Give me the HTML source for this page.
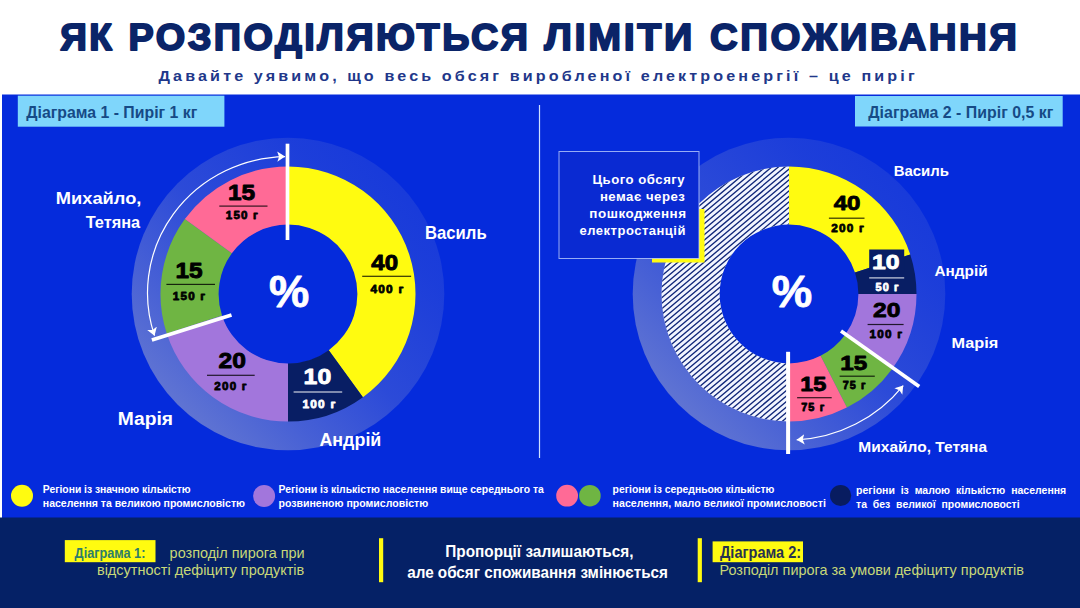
<!DOCTYPE html>
<html><head><meta charset="utf-8"><title>Ліміти споживання</title>
<style>
html,body{margin:0;padding:0;background:#fff;}
body{width:1080px;height:608px;overflow:hidden;font-family:"Liberation Sans",sans-serif;}
svg{display:block}
svg text{font-family:"Liberation Sans",sans-serif;}
</style></head><body>
<svg width="1080" height="608" viewBox="0 0 1080 608">
<defs>
<pattern id="hatch" width="4.4" height="4.4" patternUnits="userSpaceOnUse" patternTransform="rotate(-35)">
<rect width="4.4" height="4.4" fill="#f4f7ff"/>
<rect y="0" width="4.4" height="1.8" fill="#0a1c5e"/>
</pattern>
<linearGradient id="halo" x1="0" y1="1" x2="1" y2="0">
<stop offset="0.15" stop-color="#c8c8c8" stop-opacity="0.46"/>
<stop offset="0.3" stop-color="#c8c8c8" stop-opacity="0.34"/>
<stop offset="0.5" stop-color="#c8c8c8" stop-opacity="0.20"/>
<stop offset="0.75" stop-color="#c8c8c8" stop-opacity="0.12"/>
<stop offset="0.9" stop-color="#c8c8c8" stop-opacity="0.09"/>
</linearGradient>
<marker id="ah" viewBox="-8 -6 9 12" refX="0" refY="0" markerWidth="9" markerHeight="12" orient="auto-start-reverse" markerUnits="userSpaceOnUse">
<path d="M0,0 L-7.8,5.1 L-6,0 L-7.8,-5.1 Z" fill="#fff"/>
</marker>
</defs>
<rect width="1080" height="608" fill="#fff"/>
<rect x="2" y="94.5" width="1078" height="423.5" fill="#052bdc"/>
<rect x="0" y="517.5" width="1080" height="90.5" fill="#052166"/>

<text transform="translate(60.25,49.60) scale(0.9846,1)" font-size="37.6" font-weight="700" fill="#0a2468" letter-spacing="2.5" stroke="#0a2468" stroke-width="1.93" stroke-linejoin="round" xml:space="preserve">ЯК</text>
<text transform="translate(128.54,49.60) scale(1.0052,1)" font-size="37.6" font-weight="700" fill="#0a2468" letter-spacing="2.5" stroke="#0a2468" stroke-width="1.89" stroke-linejoin="round" xml:space="preserve">РОЗПОДІЛЯЮТЬСЯ</text>
<text transform="translate(544.25,49.60) scale(1.0496,1)" font-size="37.6" font-weight="700" fill="#0a2468" letter-spacing="2.5" stroke="#0a2468" stroke-width="1.81" stroke-linejoin="round" xml:space="preserve">ЛІМІТИ</text>
<text transform="translate(710.03,49.60) scale(1.0228,1)" font-size="37.6" font-weight="700" fill="#0a2468" letter-spacing="2.5" stroke="#0a2468" stroke-width="1.86" stroke-linejoin="round" xml:space="preserve">СПОЖИВАННЯ</text>
<text transform="translate(158.50,81.40) scale(1.0456,1)" font-size="15.4" font-weight="700" fill="#21378a" letter-spacing="3" xml:space="preserve">Давайте уявимо, що весь обсяг виробленої електроенергії – це пиріг</text>
<rect x="17.8" y="95.7" width="206.6" height="31" fill="#7fd6fb"/>
<text transform="translate(26.20,117.60) scale(0.9321,1)" font-size="17" font-weight="700" fill="#164a86" xml:space="preserve">Діаграма 1 - Пиріг 1 кг</text>
<rect x="855" y="96" width="207.7" height="30.5" fill="#7fd6fb"/>
<text transform="translate(868.30,117.60) scale(0.9356,1)" font-size="17" font-weight="700" fill="#164a86" xml:space="preserve">Діаграма 2 - Пиріг 0,5 кг</text>
<rect x="538.9" y="105" width="1.2" height="353" fill="#cfe0ff"/>
<circle cx="288" cy="294" r="156.3" fill="url(#halo)"/>
<circle cx="288" cy="294" r="69.9" fill="#052bdc"/>
<path d="M288.00,166.50 A127.5,127.5 0 0 1 362.94,397.15 L328.79,350.15 A69.4,69.4 0 0 0 288.00,224.60 Z" fill="#fffb10" />
<path d="M362.94,397.15 A127.5,127.5 0 0 1 288.00,421.50 L288.00,363.40 A69.4,69.4 0 0 0 328.79,350.15 Z" fill="#081e64" />
<path d="M288.00,421.50 A127.5,127.5 0 0 1 166.74,333.40 L222.00,315.45 A69.4,69.4 0 0 0 288.00,363.40 Z" fill="#a276dc" />
<path d="M166.74,333.40 A127.5,127.5 0 0 1 184.85,219.06 L231.85,253.21 A69.4,69.4 0 0 0 222.00,315.45 Z" fill="#6fb543" />
<path d="M184.85,219.06 A127.5,127.5 0 0 1 288.00,166.50 L288.00,224.60 A69.4,69.4 0 0 0 231.85,253.21 Z" fill="#ff6a96" />
<line x1="287.5" y1="143.7" x2="287.5" y2="240" stroke="#fff" stroke-width="3.7"/>
<line x1="151.9" y1="340.0" x2="231.5" y2="314.9" stroke="#fff" stroke-width="3.7"/>
<path d="M154.53,335.63 A140.5,136.5 0 0 1 285.06,156.53" fill="none" stroke="#fff" stroke-width="1.2" marker-start="url(#ah)" marker-end="url(#ah)"/>
<text transform="translate(268.96,306.90) scale(1.0405,1)" font-size="43.5" font-weight="700" fill="#fff" stroke="#fff" stroke-width="0.77" stroke-linejoin="round" xml:space="preserve">%</text>
<text transform="translate(371.30,270.40) scale(1.0688,1)" font-size="22.5" font-weight="700" fill="#000" stroke="#000" stroke-width="0.94" stroke-linejoin="round" xml:space="preserve">40</text>
<rect x="362.2" y="275.7" width="48.900000000000034" height="1.2" fill="#000" opacity="0.8"/>
<text transform="translate(370.40,293.10) scale(1.0316,1)" font-size="11.5" font-weight="700" fill="#000" letter-spacing="1.2" stroke="#000" stroke-width="0.78" stroke-linejoin="round" xml:space="preserve">400 г</text>
<text transform="translate(303.60,384.40) scale(1.1015,1)" font-size="22.5" font-weight="700" fill="#fff" stroke="#fff" stroke-width="0.91" stroke-linejoin="round" xml:space="preserve">10</text>
<rect x="293.6" y="391.4" width="48.599999999999966" height="1.2" fill="#fff" opacity="0.8"/>
<text transform="translate(302.40,407.80) scale(1.0347,1)" font-size="11.5" font-weight="700" fill="#fff" letter-spacing="1.2" stroke="#fff" stroke-width="0.77" stroke-linejoin="round" xml:space="preserve">100 г</text>
<text transform="translate(218.50,368.00) scale(1.0933,1)" font-size="22.5" font-weight="700" fill="#000" stroke="#000" stroke-width="0.91" stroke-linejoin="round" xml:space="preserve">20</text>
<rect x="207" y="374.7" width="47.69999999999999" height="1.2" fill="#000" opacity="0.8"/>
<text transform="translate(214.30,389.50) scale(1.0099,1)" font-size="11.5" font-weight="700" fill="#000" letter-spacing="1.2" stroke="#000" stroke-width="0.79" stroke-linejoin="round" xml:space="preserve">200 г</text>
<text transform="translate(175.42,278.30) scale(1.0845,1)" font-size="22.5" font-weight="700" fill="#000" stroke="#000" stroke-width="0.92" stroke-linejoin="round" xml:space="preserve">15</text>
<rect x="166.4" y="283.79999999999995" width="48.599999999999994" height="1.2" fill="#000" opacity="0.8"/>
<text transform="translate(172.80,299.80) scale(1.0130,1)" font-size="11.5" font-weight="700" fill="#000" letter-spacing="1.2" stroke="#000" stroke-width="0.79" stroke-linejoin="round" xml:space="preserve">150 г</text>
<text transform="translate(227.92,200.00) scale(1.0845,1)" font-size="22.5" font-weight="700" fill="#000" stroke="#000" stroke-width="0.92" stroke-linejoin="round" xml:space="preserve">15</text>
<rect x="219.3" y="205.5" width="48.19999999999999" height="1.2" fill="#000" opacity="0.8"/>
<text transform="translate(225.80,219.00) scale(1.0068,1)" font-size="11.5" font-weight="700" fill="#000" letter-spacing="1.2" stroke="#000" stroke-width="0.79" stroke-linejoin="round" xml:space="preserve">150 г</text>
<text transform="translate(55.84,204.00) scale(1.0628,1)" font-size="17.2" font-weight="700" fill="#fff" xml:space="preserve">Михайло,</text>
<text transform="translate(85.70,228.30) scale(0.9498,1)" font-size="17.2" font-weight="700" fill="#fff" xml:space="preserve">Тетяна</text>
<text transform="translate(424.97,238.90) scale(0.9264,1)" font-size="18" font-weight="700" fill="#fff" xml:space="preserve">Василь</text>
<text transform="translate(117.80,424.70) scale(1.0983,1)" font-size="17.5" font-weight="700" fill="#fff" xml:space="preserve">Марія</text>
<text transform="translate(319.40,446.40) scale(1.0222,1)" font-size="17.5" font-weight="700" fill="#fff" xml:space="preserve">Андрій</text>
<circle cx="789" cy="294" r="156.3" fill="url(#halo)"/>
<circle cx="789" cy="294" r="69.9" fill="#052bdc"/>
<path d="M789.00,421.50 A127.5,127.5 0 0 1 789.00,166.50 L789.00,224.60 A69.4,69.4 0 0 0 789.00,363.40 Z" fill="#f2f5ff" />
<clipPath id="hc"><path d="M789.00,421.50 A127.5,127.5 0 0 1 789.00,166.50 L789.00,224.60 A69.4,69.4 0 0 0 789.00,363.40 Z" fill="#000" /></clipPath>
<path clip-path="url(#hc)" d="M355.81,165.17L662.23,-91.95M358.51,168.38L664.93,-88.73M361.21,171.60L667.63,-85.51M363.91,174.82L670.33,-82.30M366.61,178.04L673.03,-79.08M369.31,181.25L675.73,-75.86M372.01,184.47L678.43,-72.64M374.71,187.69L681.13,-69.43M377.41,190.91L683.83,-66.21M380.11,194.12L686.53,-62.99M382.81,197.34L689.23,-59.77M385.51,200.56L691.93,-56.56M388.21,203.78L694.63,-53.34M390.91,206.99L697.33,-50.12M393.61,210.21L700.03,-46.91M396.31,213.43L702.73,-43.69M399.01,216.64L705.43,-40.47M401.71,219.86L708.13,-37.25M404.41,223.08L710.83,-34.04M407.11,226.30L713.53,-30.82M409.81,229.51L716.23,-27.60M412.51,232.73L718.93,-24.38M415.21,235.95L721.63,-21.17M417.91,239.17L724.33,-17.95M420.61,242.38L727.03,-14.73M423.31,245.60L729.72,-11.51M426.01,248.82L732.42,-8.30M428.71,252.04L735.12,-5.08M431.41,255.25L737.82,-1.86M434.11,258.47L740.52,1.36M436.81,261.69L743.22,4.57M439.51,264.91L745.92,7.79M442.21,268.12L748.62,11.01M444.90,271.34L751.32,14.23M447.60,274.56L754.02,17.44M450.30,277.78L756.72,20.66M453.00,280.99L759.42,23.88M455.70,284.21L762.12,27.09M458.40,287.43L764.82,30.31M461.10,290.64L767.52,33.53M463.80,293.86L770.22,36.75M466.50,297.08L772.92,39.96M469.20,300.30L775.62,43.18M471.90,303.51L778.32,46.40M474.60,306.73L781.02,49.62M477.30,309.95L783.72,52.83M480.00,313.17L786.42,56.05M482.70,316.38L789.12,59.27M485.40,319.60L791.82,62.49M488.10,322.82L794.52,65.70M490.80,326.04L797.22,68.92M493.50,329.25L799.92,72.14M496.20,332.47L802.62,75.36M498.90,335.69L805.32,78.57M501.60,338.91L808.02,81.79M504.30,342.12L810.72,85.01M507.00,345.34L813.42,88.23M509.70,348.56L816.12,91.44M512.40,351.78L818.82,94.66M515.10,354.99L821.52,97.88M517.80,358.21L824.21,101.09M520.50,361.43L826.91,104.31M523.20,364.64L829.61,107.53M525.90,367.86L832.31,110.75M528.60,371.08L835.01,113.96M531.30,374.30L837.71,117.18M534.00,377.51L840.41,120.40M536.69,380.73L843.11,123.62M539.39,383.95L845.81,126.83M542.09,387.17L848.51,130.05M544.79,390.38L851.21,133.27M547.49,393.60L853.91,136.49M550.19,396.82L856.61,139.70M552.89,400.04L859.31,142.92M555.59,403.25L862.01,146.14M558.29,406.47L864.71,149.36M560.99,409.69L867.41,152.57M563.69,412.91L870.11,155.79M566.39,416.12L872.81,159.01M569.09,419.34L875.51,162.23M571.79,422.56L878.21,165.44M574.49,425.77L880.91,168.66M577.19,428.99L883.61,171.88M579.89,432.21L886.31,175.09M582.59,435.43L889.01,178.31M585.29,438.64L891.71,181.53M587.99,441.86L894.41,184.75M590.69,445.08L897.11,187.96M593.39,448.30L899.81,191.18M596.09,451.51L902.51,194.40M598.79,454.73L905.21,197.62M601.49,457.95L907.91,200.83M604.19,461.17L910.61,204.05M606.89,464.38L913.31,207.27M609.59,467.60L916.00,210.49M612.29,470.82L918.70,213.70M614.99,474.04L921.40,216.92M617.69,477.25L924.10,220.14M620.39,480.47L926.80,223.36M623.09,483.69L929.50,226.57M625.79,486.91L932.20,229.79M628.48,490.12L934.90,233.01M631.18,493.34L937.60,236.22M633.88,496.56L940.30,239.44M636.58,499.77L943.00,242.66M639.28,502.99L945.70,245.88M641.98,506.21L948.40,249.09M644.68,509.43L951.10,252.31M647.38,512.64L953.80,255.53M650.08,515.86L956.50,258.75M652.78,519.08L959.20,261.96M655.48,522.30L961.90,265.18M658.18,525.51L964.60,268.40M660.88,528.73L967.30,271.62M663.58,531.95L970.00,274.83M666.28,535.17L972.70,278.05M668.98,538.38L975.40,281.27M671.68,541.60L978.10,284.49M674.38,544.82L980.80,287.70M677.08,548.04L983.50,290.92M679.78,551.25L986.20,294.14M682.48,554.47L988.90,297.36M685.18,557.69L991.60,300.57M687.88,560.91L994.30,303.79M690.58,564.12L997.00,307.01M693.28,567.34L999.70,310.22M695.98,570.56L1002.40,313.44M698.68,573.77L1005.10,316.66M701.38,576.99L1007.79,319.88M704.08,580.21L1010.49,323.09M706.78,583.43L1013.19,326.31M709.48,586.64L1015.89,329.53M712.18,589.86L1018.59,332.75M714.88,593.08L1021.29,335.96M717.58,596.30L1023.99,339.18M720.28,599.51L1026.69,342.40M722.97,602.73L1029.39,345.62M725.67,605.95L1032.09,348.83M728.37,609.17L1034.79,352.05M731.07,612.38L1037.49,355.27M733.77,615.60L1040.19,358.49M736.47,618.82L1042.89,361.70M739.17,622.04L1045.59,364.92M741.87,625.25L1048.29,368.14M744.57,628.47L1050.99,371.36M747.27,631.69L1053.69,374.57M749.97,634.91L1056.39,377.79M752.67,638.12L1059.09,381.01M755.37,641.34L1061.79,384.22M758.07,644.56L1064.49,387.44M760.77,647.77L1067.19,390.66M763.47,650.99L1069.89,393.88M766.17,654.21L1072.59,397.09M768.87,657.43L1075.29,400.31M771.57,660.64L1077.99,403.53M774.27,663.86L1080.69,406.75M776.97,667.08L1083.39,409.96M779.67,670.30L1086.09,413.18M782.37,673.51L1088.79,416.40M785.07,676.73L1091.49,419.62" stroke="#12287a" stroke-width="1.35" fill="none"/>
<path d="M789.00,166.50 A127.5,127.5 0 0 1 910.26,254.60 L855.00,272.55 A69.4,69.4 0 0 0 789.00,224.60 Z" fill="#fffb10" />
<path d="M910.26,254.60 A127.5,127.5 0 0 1 916.50,294.00 L858.40,294.00 A69.4,69.4 0 0 0 855.00,272.55 Z" fill="#081e64" />
<path d="M916.50,294.00 A127.5,127.5 0 0 1 892.15,368.94 L845.15,334.79 A69.4,69.4 0 0 0 858.40,294.00 Z" fill="#a276dc" />
<path d="M892.15,368.94 A127.5,127.5 0 0 1 846.88,407.60 L820.51,355.84 A69.4,69.4 0 0 0 845.15,334.79 Z" fill="#6fb543" />
<path d="M846.88,407.60 A127.5,127.5 0 0 1 789.00,421.50 L789.00,363.40 A69.4,69.4 0 0 0 820.51,355.84 Z" fill="#ff6a96" />
<rect x="869.2" y="249.5" width="35" height="23.5" fill="#081e64"/>
<line x1="788.1" y1="351.8" x2="788.1" y2="454" stroke="#fff" stroke-width="4.0"/>
<line x1="841" y1="331.1" x2="919.2" y2="386.5" stroke="#fff" stroke-width="3.7"/>
<path d="M903.24,385.51 A147,147 0 0 1 796.69,439.80" fill="none" stroke="#fff" stroke-width="1.2" marker-start="url(#ah)" marker-end="url(#ah)"/>
<text transform="translate(771.85,306.90) scale(1.0459,1)" font-size="43.5" font-weight="700" fill="#fff" stroke="#fff" stroke-width="0.76" stroke-linejoin="round" xml:space="preserve">%</text>
<rect x="652" y="209" width="52.5" height="53.5" fill="#fffb10"/>
<rect x="559" y="151.5" width="140" height="107" fill="#0a2ad2" stroke="#c8d8ff" stroke-opacity="0.75" stroke-width="1"/>
<text transform="translate(592.50,183.80) scale(1.0136,1)" font-size="13" font-weight="700" fill="#fff" letter-spacing="0.5" xml:space="preserve">Цього обсягу</text>
<text transform="translate(599.90,201.00) scale(1.0151,1)" font-size="13" font-weight="700" fill="#fff" letter-spacing="0.5" xml:space="preserve">немає через</text>
<text transform="translate(589.30,218.00) scale(1.0348,1)" font-size="13" font-weight="700" fill="#fff" letter-spacing="0.5" xml:space="preserve">пошкодження</text>
<text transform="translate(579.50,234.90) scale(1.0008,1)" font-size="13" font-weight="700" fill="#fff" letter-spacing="0.5" xml:space="preserve">електростанцій</text>
<text transform="translate(833.70,209.90) scale(1.1464,1)" font-size="21" font-weight="700" fill="#000" stroke="#000" stroke-width="0.87" stroke-linejoin="round" xml:space="preserve">40</text>
<rect x="828.9" y="217.6" width="35.60000000000002" height="1.2" fill="#000" opacity="0.8"/>
<text transform="translate(831.20,231.70) scale(1.0223,1)" font-size="11.5" font-weight="700" fill="#000" letter-spacing="1.2" stroke="#000" stroke-width="0.78" stroke-linejoin="round" xml:space="preserve">200 г</text>
<text transform="translate(871.92,269.40) scale(1.1809,1)" font-size="21" font-weight="700" fill="#fff" stroke="#fff" stroke-width="0.85" stroke-linejoin="round" xml:space="preserve">10</text>
<rect x="869.2" y="277.29999999999995" width="35.0" height="1.2" fill="#fff" opacity="0.8"/>
<text transform="translate(875.50,291.20) scale(0.9477,1)" font-size="11.5" font-weight="700" fill="#fff" letter-spacing="1.2" stroke="#fff" stroke-width="0.84" stroke-linejoin="round" xml:space="preserve">50 г</text>
<text transform="translate(873.10,316.80) scale(1.1729,1)" font-size="21" font-weight="700" fill="#000" stroke="#000" stroke-width="0.85" stroke-linejoin="round" xml:space="preserve">20</text>
<rect x="867.6" y="323.9" width="36.0" height="1.2" fill="#000" opacity="0.8"/>
<text transform="translate(869.60,338.20) scale(1.0192,1)" font-size="11.5" font-weight="700" fill="#000" letter-spacing="1.2" stroke="#000" stroke-width="0.78" stroke-linejoin="round" xml:space="preserve">100 г</text>
<text transform="translate(840.34,369.50) scale(1.1552,1)" font-size="21" font-weight="700" fill="#000" stroke="#000" stroke-width="0.87" stroke-linejoin="round" xml:space="preserve">15</text>
<rect x="839.6" y="375.59999999999997" width="35.19999999999993" height="1.2" fill="#000" opacity="0.8"/>
<text transform="translate(842.70,388.60) scale(0.9395,1)" font-size="11.5" font-weight="700" fill="#000" letter-spacing="1.2" stroke="#000" stroke-width="0.85" stroke-linejoin="round" xml:space="preserve">75 г</text>
<text transform="translate(800.18,390.90) scale(1.1200,1)" font-size="21" font-weight="700" fill="#000" stroke="#000" stroke-width="0.89" stroke-linejoin="round" xml:space="preserve">15</text>
<rect x="797.1" y="397.09999999999997" width="34.60000000000002" height="1.2" fill="#000" opacity="0.8"/>
<text transform="translate(801.20,411.30) scale(0.9436,1)" font-size="11.5" font-weight="700" fill="#000" letter-spacing="1.2" stroke="#000" stroke-width="0.85" stroke-linejoin="round" xml:space="preserve">75 г</text>
<text transform="translate(893.63,175.60) scale(0.9658,1)" font-size="15.5" font-weight="700" fill="#fff" xml:space="preserve">Василь</text>
<text transform="translate(934.40,275.50) scale(0.9912,1)" font-size="15.5" font-weight="700" fill="#fff" xml:space="preserve">Андрій</text>
<text transform="translate(951.45,348.00) scale(1.0519,1)" font-size="15.5" font-weight="700" fill="#fff" xml:space="preserve">Марія</text>
<text transform="translate(858.30,452.00) scale(1.0020,1)" font-size="15.5" font-weight="700" fill="#fff" xml:space="preserve">Михайло, Тетяна</text>
<circle cx="22" cy="495.7" r="11" fill="#fffb10"/>
<circle cx="264.1" cy="496" r="11" fill="#a276dc"/>
<circle cx="567.1" cy="495.7" r="10.9" fill="#ff6a96"/>
<circle cx="589.9" cy="495.7" r="10.8" fill="#6fb543"/>
<circle cx="840.6" cy="495.5" r="10.6" fill="#081c60"/>
<text transform="translate(42.80,493.10) scale(0.9407,1)" font-size="11" font-weight="700" fill="#fff" xml:space="preserve">Регіони із значною кількістю</text>
<text transform="translate(42.80,507.40) scale(0.9577,1)" font-size="11" font-weight="700" fill="#fff" xml:space="preserve">населення та великою промисловістю</text>
<text transform="translate(278.50,492.80) scale(0.9461,1)" font-size="11" font-weight="700" fill="#fff" xml:space="preserve">Регіони із кількістю населення вище середнього та</text>
<text transform="translate(278.50,506.70) scale(0.9608,1)" font-size="11" font-weight="700" fill="#fff" xml:space="preserve">розвиненою промисловістю</text>
<text transform="translate(612.60,493.40) scale(0.9431,1)" font-size="11" font-weight="700" fill="#fff" xml:space="preserve">регіони із середньою кількістю</text>
<text transform="translate(612.60,507.00) scale(0.9633,1)" font-size="11" font-weight="700" fill="#fff" xml:space="preserve">населення, мало великої промисловості</text>
<text transform="translate(856.10,493.80) scale(0.9556,1)" font-size="11" font-weight="700" fill="#fff" xml:space="preserve">регіони  із  малою  кількістю  населення</text>
<text transform="translate(856.10,507.50) scale(0.9512,1)" font-size="11" font-weight="700" fill="#fff" xml:space="preserve">та  без  великої  промисловості</text>
<rect x="64.8" y="540.1" width="90.7" height="22.1" fill="#fffb10"/>
<text transform="translate(74.60,557.80) scale(0.8192,1)" font-size="15.5" font-weight="700" fill="#2e7d6b" xml:space="preserve">Діаграма 1:</text>
<text transform="translate(169.60,558.00) scale(0.9640,1)" font-size="15" font-weight="400" fill="#c8d878" xml:space="preserve">розподіл пирога при</text>
<text transform="translate(96.93,575.40) scale(0.9671,1)" font-size="15" font-weight="400" fill="#c8d878" xml:space="preserve">відсутності дефіциту продуктів</text>
<rect x="379" y="538.2" width="4.2" height="44" fill="#fffb10"/>
<text transform="translate(445.27,557.40) scale(0.9311,1)" font-size="16.5" font-weight="700" fill="#fff" xml:space="preserve">Пропорції залишаються,</text>
<text transform="translate(407.20,577.90) scale(0.9238,1)" font-size="16.5" font-weight="700" fill="#fff" xml:space="preserve">але обсяг споживання змінюється</text>
<rect x="697.7" y="538.2" width="4.2" height="44" fill="#fffb10"/>
<rect x="712.6" y="541.4" width="90.4" height="20.8" fill="#fffb10"/>
<text transform="translate(720.00,558.20) scale(0.9097,1)" font-size="16" font-weight="700" fill="#283250" xml:space="preserve">Діаграма 2:</text>
<text transform="translate(719.47,575.40) scale(1.0319,1)" font-size="14" font-weight="400" fill="#c8d878" xml:space="preserve">Розподіл пирога за умови дефіциту продуктів</text>
</svg></body></html>
